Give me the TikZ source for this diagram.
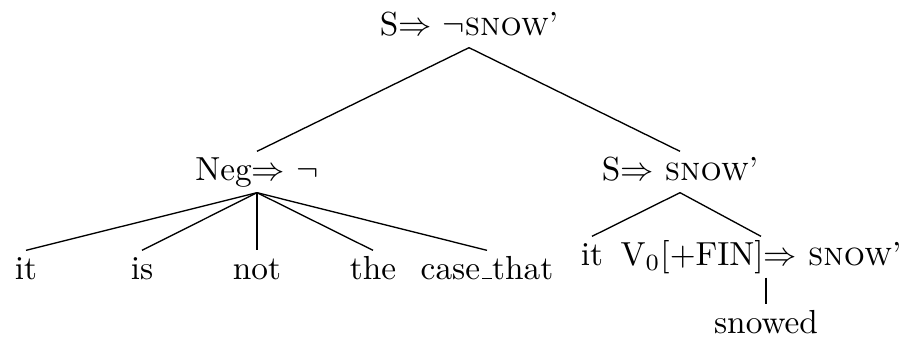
\documentclass[tikz,border=0pt]{standalone}
\newcommand{\lowbar}{\leavevmode\kern.06em\vbox{\hrule width.3em height 0.4pt}}
\begin{document}
\begin{tikzpicture}[x=0.3pt,y=-0.3pt,
  tnode/.style={anchor=base,inner sep=0pt,text height=8.4pt,text depth=3.6pt},
  edge/.style={draw=black,line width=0.4pt}]
\useasboundingbox (0,0) rectangle (900,340);
\node[tnode] (root) at (469,35) {S$\Rightarrow$ $\neg$\textsc{snow}'};
\node[tnode] (neg) at (257,180) {Neg$\Rightarrow$ $\neg$};
\node[tnode] (s2) at (680,180) {S$\Rightarrow$ \textsc{snow}'};
\node[tnode] (l1) at (26,279) {it};
\node[tnode] (l2) at (142,279) {is};
\node[tnode] (l3) at (257,279) {not};
\node[tnode] (l4) at (373,279) {the};
\node[tnode] (l5) at (487,279) {case\lowbar that};
\node[tnode] (r1) at (592,265) {it};
\node[tnode] (v0) at (761,265) {V$_0$[+FIN]$\Rightarrow$ \textsc{snow}'};
\node[tnode] (sn) at (766,333) {snowed};
\draw[edge] (root.south) -- (neg.north);
\draw[edge] (root.south) -- (s2.north);
\foreach \c in {l1,l2,l3,l4,l5} \draw[edge] (neg.south) -- (\c.north);
\draw[edge] (s2.south) -- (r1.north);
\draw[edge] (s2.south) -- (v0.north);
\draw[edge] (v0.south -| sn.north) -- (sn.north);
\end{tikzpicture}
\end{document}
